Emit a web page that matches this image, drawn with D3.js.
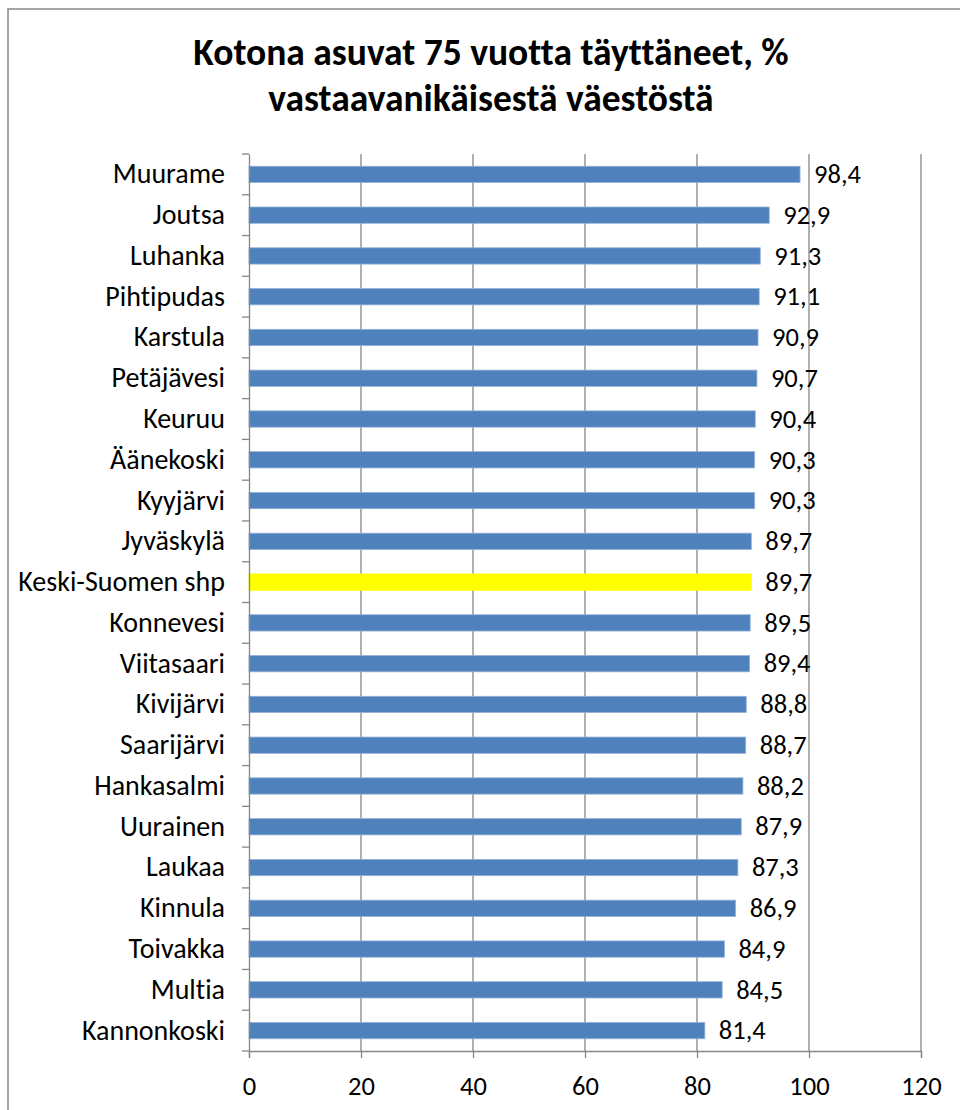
<!DOCTYPE html>
<html>
<head>
<meta charset="utf-8">
<script src="https://cdn.jsdelivr.net/npm/d3@7"></script>
<style>
  body { margin: 0; background: #fff; }
  text { font-family: Carlito, "Open Sans", sans-serif; fill: #000; font-variant-ligatures: none; }
</style>
</head>
<body>
<svg id="chart"></svg>
<script>
const titleLines = ["Kotona asuvat 75 vuotta täyttäneet, %", "vastaavanikäisestä väestöstä"];
const municipalities = ["Muurame", "Joutsa", "Luhanka", "Pihtipudas", "Karstula", "Petäjävesi",
  "Keuruu", "Äänekoski", "Kyyjärvi", "Jyväskylä", "Keski-Suomen shp", "Konnevesi", "Viitasaari",
  "Kivijärvi", "Saarijärvi", "Hankasalmi", "Uurainen", "Laukaa", "Kinnula", "Toivakka", "Multia",
  "Kannonkoski"];
const shares = [98.4, 92.9, 91.3, 91.1, 90.9, 90.7, 90.4, 90.3, 90.3, 89.7, 89.7, 89.5, 89.4,
  88.8, 88.7, 88.2, 87.9, 87.3, 86.9, 84.9, 84.5, 81.4];
const xTicks = [0, 20, 40, 60, 80, 100, 120];
const highlight = "Keski-Suomen shp";

const W = 960, H = 1110;
const margin = {top: 154, right: 39, bottom: 59, left: 249};
const width = W - margin.left - margin.right,
  height = H - margin.top - margin.bottom;

const svg = d3.select("#chart").attr("width", W).attr("height", H);

// outer chart border
svg.append("rect")
  .attr("x", 8).attr("y", 9)
  .attr("width", W + 10).attr("height", H + 10)
  .attr("fill", "none")
  .attr("stroke", "#868686")
  .attr("stroke-width", 1.5);

svg.append("g")
  .selectAll("text")
  .data(titleLines)
  .join("text")
    .attr("x", 491)
    .attr("y", (d, i) => 65 + i * 46)
    .attr("text-anchor", "middle")
    .style("font-size", "37.5px")
    .style("font-weight", "bold")
    .text(d => d);

const g = svg.append("g")
  .attr("transform", "translate(" + margin.left + "," + margin.top + ")");

const x = d3.scaleLinear().domain([0, 120]).range([0, width]);
const y = d3.scaleBand().domain(municipalities).range([0, height])
  .paddingInner(0.6).paddingOuter(0.3);

// gridlines
g.append("g")
  .selectAll("line")
  .data(xTicks.slice(1))
  .join("line")
    .attr("x1", d => x(d)).attr("x2", d => x(d))
    .attr("y1", 0).attr("y2", height)
    .attr("stroke", "#868686")
    .attr("stroke-width", 1.3);

// bars
g.append("g")
  .selectAll("rect")
  .data(municipalities)
  .join("rect")
    .attr("x", 0)
    .attr("y", d => y(d))
    .attr("width", (d, i) => x(shares[i]))
    .attr("height", y.bandwidth())
    .attr("fill", d => d === highlight ? "#ffff00" : "#4f81bd")
    .attr("stroke", d => d === highlight ? "#ffff00" : "#95b3d7")
    .attr("stroke-width", 0.8);

// value labels
const fmt = v => d3.format(".1f")(v).replace(".", ",");
g.append("g")
  .selectAll("text")
  .data(municipalities)
  .join("text")
    .attr("x", (d, i) => x(shares[i]) + 14)
    .attr("y", d => y(d) + y.bandwidth() / 2)
    .attr("dy", "0.33em")
    .style("font-size", "26.5px")
    .text((d, i) => fmt(shares[i]));

// x axis
const xAxis = d3.axisBottom(x).tickValues(xTicks).tickSize(7).tickPadding(18);
const xg = g.append("g")
  .attr("transform", "translate(0," + height + ")")
  .call(xAxis);
xg.select(".domain").attr("stroke", "#868686").attr("stroke-width", 1.3);
xg.selectAll(".tick line").attr("stroke", "#868686").attr("stroke-width", 1.3);
xg.selectAll(".tick text").style("font-size", "26.5px").attr("fill", "#000");

// category axis
const step = y.step();
const yAxis = d3.axisLeft(y).tickSize(0).tickPadding(24);
const yg = g.append("g").call(yAxis);
yg.select(".domain").attr("stroke", "#868686").attr("stroke-width", 1.3);
yg.selectAll(".tick text").style("font-size", "28px").attr("fill", "#000");
yg.append("g")
  .selectAll("line")
  .data(d3.range(municipalities.length + 1))
  .join("line")
    .attr("x1", -7).attr("x2", 0)
    .attr("y1", i => i * step).attr("y2", i => i * step)
    .attr("stroke", "#868686")
    .attr("stroke-width", 1.3);
</script>
</body>
</html>
